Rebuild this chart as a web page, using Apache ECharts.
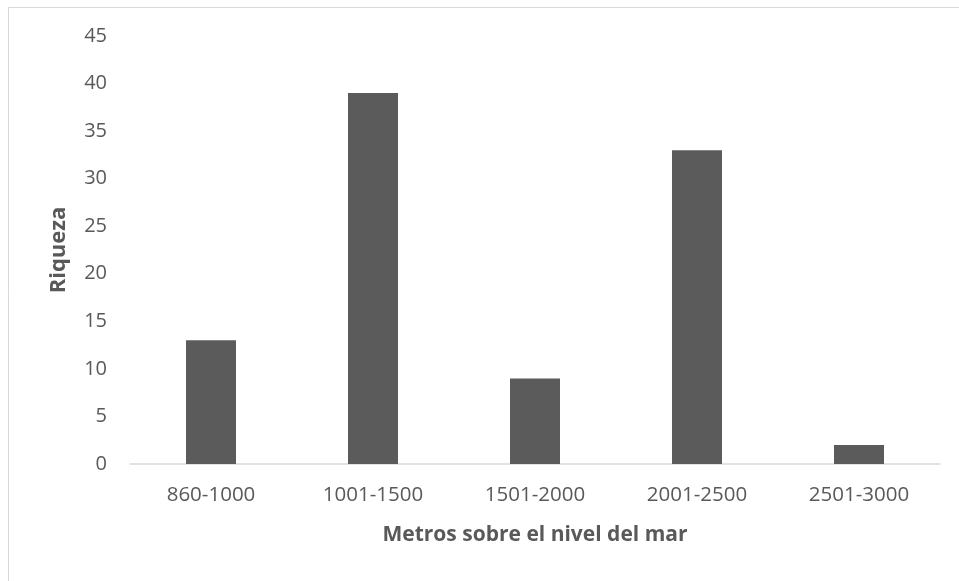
<!DOCTYPE html>
<html>
<head>
<meta charset="utf-8">
<script src="https://cdn.jsdelivr.net/npm/echarts@6/dist/echarts.min.js"></script>
<style>
  html, body { margin: 0; padding: 0; background: #fff; }
  #chart { width: 959px; height: 581px; }
</style>
</head>
<body>
<div id="chart"></div>
<script>
// Altitude bands (m a.s.l.) and species richness per band
const categories = ['860-1000', '1001-1500', '1501-2000', '2001-2500', '2501-3000'];
const riqueza = [13, 39, 9, 33, 2];
const yTicks = { min: 0, max: 45, interval: 5 };

const font = '"Open Sans", "Noto Sans", sans-serif';
const textColor = '#595959';

const chart = echarts.init(document.getElementById('chart'));
chart.setOption({
  animation: false,
  backgroundColor: '#fff',
  graphic: [{
    type: 'rect',
    shape: { x: 8.5, y: 7.5, width: 1000, height: 700 },
    style: { fill: 'none', stroke: '#d9d9d9', lineWidth: 1 },
    silent: true
  }],
  grid: { left: 130, right: 19, top: 36, bottom: 117 },
  xAxis: {
    type: 'category',
    data: categories,
    name: 'Metros sobre el nivel del mar',
    nameLocation: 'middle',
    nameGap: 61,
    nameTextStyle: { fontFamily: font, fontSize: 21, fontWeight: 'bold', color: textColor },
    axisLine: { lineStyle: { color: '#d9d9d9', width: 1.5 } },
    axisTick: { show: false },
    axisLabel: { fontFamily: font, fontSize: 20.5, color: textColor, margin: 21 }
  },
  yAxis: {
    type: 'value',
    min: yTicks.min,
    max: yTicks.max,
    interval: yTicks.interval,
    name: 'Riqueza',
    nameLocation: 'middle',
    nameGap: 60,
    nameTextStyle: { fontFamily: font, fontSize: 22, fontWeight: 'bold', color: textColor },
    axisLine: { show: false },
    axisTick: { show: false },
    splitLine: { show: false },
    axisLabel: { fontFamily: font, fontSize: 20, color: textColor, margin: 23 }
  },
  series: [{
    type: 'bar',
    data: riqueza,
    barWidth: 50,
    itemStyle: { color: '#5b5b5b' }
  }]
});
</script>
</body>
</html>
